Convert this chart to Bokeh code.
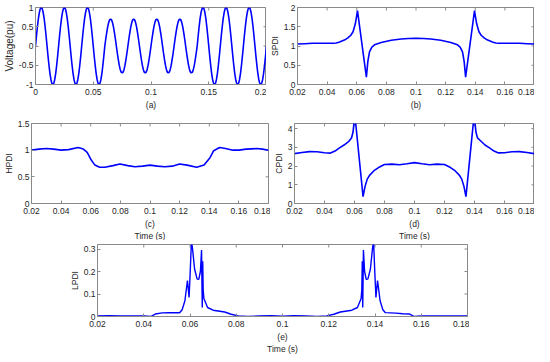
from bokeh.plotting import figure
from bokeh.layouts import column, row, Spacer
from bokeh.models import FixedTicker, Title, Range1d
from bokeh.embed import file_html
from bokeh.resources import INLINE
import math

# ---------------- data ----------------
# (a) voltage waveform: one-cycle shape (15 deg steps) and amplitude of each 20 ms cycle
wave_shape = [0, 0.26, 0.5, 0.71, 0.87, 0.97, 1, 0.97, 0.87, 0.71, 0.5, 0.26,
              0, -0.26, -0.5, -0.71, -0.87, -0.97, -1, -0.97, -0.87, -0.71, -0.5, -0.26]
cycle_amp = [1, 1, 1, 0.7, 0.7, 0.7, 0.7, 1, 1, 1]
cycle_len = 0.02

# (b) SPDI
t_spdi = [0.02, 0.025, 0.03, 0.035, 0.04, 0.044, 0.046, 0.048, 0.05, 0.052, 0.054, 0.056,
          0.0575, 0.059, 0.0598, 0.0605, 0.0665, 0.0675, 0.0686, 0.0702, 0.072, 0.0765,
          0.0833, 0.09, 0.095, 0.1, 0.105, 0.11, 0.1167, 0.1235, 0.128, 0.1298, 0.1314,
          0.1325, 0.1335, 0.1395, 0.1402, 0.141, 0.1425, 0.144, 0.146, 0.148, 0.15, 0.152,
          0.154, 0.156, 0.16, 0.165, 0.17, 0.175, 0.18]
v_spdi = [1.05, 1.06, 1.07, 1.07, 1.07, 1.07, 1.08, 1.10, 1.13, 1.16, 1.21, 1.28,
          1.37, 1.57, 1.75, 1.92, 0.19, 0.6, 0.85, 0.97, 1.03, 1.09,
          1.15, 1.18, 1.195, 1.2, 1.195, 1.18, 1.15, 1.09, 1.03, 0.97, 0.85,
          0.6, 0.19, 1.92, 1.75, 1.57, 1.37, 1.28, 1.21, 1.16, 1.13, 1.10,
          1.08, 1.07, 1.07, 1.07, 1.07, 1.06, 1.05]

# (c) HPDI
t_hpdi = [0.02, 0.025, 0.03, 0.035, 0.04, 0.045, 0.0515, 0.055, 0.0576, 0.06, 0.0628,
          0.066, 0.0695, 0.075, 0.0797, 0.085, 0.0898, 0.095, 0.1, 0.105, 0.11, 0.115,
          0.12, 0.125, 0.1315, 0.1365, 0.1405, 0.143, 0.147, 0.151, 0.156, 0.16, 0.165,
          0.172, 0.176, 0.18]
v_hpdi = [1.0, 1.02, 1.03, 1.02, 1.0, 1.01, 1.05, 1.02, 0.96, 0.83, 0.72,
          0.68, 0.68, 0.71, 0.74, 0.71, 0.69, 0.7, 0.72, 0.7, 0.69, 0.7,
          0.74, 0.72, 0.68, 0.72, 0.86, 0.99, 1.05, 1.03, 1.0, 1.0, 1.02,
          1.03, 1.02, 1.0]

# (d) CPDI
t_cpdi = [0.02, 0.025, 0.03, 0.035, 0.04, 0.044, 0.047, 0.05, 0.053, 0.056, 0.058, 0.059,
          0.0598, 0.0604, 0.0657, 0.067, 0.0685, 0.07, 0.073, 0.076, 0.08, 0.085, 0.09,
          0.095, 0.1, 0.105, 0.11, 0.115, 0.12, 0.124, 0.127, 0.13, 0.1315, 0.133, 0.1343,
          0.1396, 0.1402, 0.141, 0.142, 0.144, 0.147, 0.15, 0.153, 0.156, 0.16, 0.165,
          0.17, 0.175, 0.18]
v_cpdi = [2.66, 2.72, 2.77, 2.76, 2.71, 2.69, 2.8, 2.97, 3.12, 3.3, 3.5, 3.8,
          4.4, 4.6, 0.37, 0.9, 1.3, 1.5, 1.75, 1.92, 2.08, 2.1, 2.07,
          2.12, 2.18, 2.12, 2.07, 2.1, 2.08, 1.92, 1.75, 1.5, 1.3, 0.9, 0.37,
          4.6, 4.4, 3.8, 3.5, 3.35, 3.12, 2.97, 2.8, 2.7, 2.71, 2.76,
          2.77, 2.72, 2.66]

# (e) LPDI
t_lpdi = [0.02, 0.025, 0.03, 0.035, 0.04, 0.043, 0.045, 0.048, 0.051, 0.0555, 0.0566,
          0.0578, 0.0584, 0.0589, 0.0596, 0.0601, 0.0606, 0.061, 0.0615, 0.062, 0.0631,
          0.0638, 0.0645, 0.065, 0.0653, 0.0655, 0.0657, 0.066, 0.0676, 0.07, 0.075,
          0.0778, 0.0808, 0.085, 0.09, 0.095, 0.1, 0.105, 0.11, 0.115, 0.1192, 0.1222,
          0.125, 0.13, 0.1324, 0.134, 0.1343, 0.1345, 0.1347, 0.135, 0.1355, 0.1362,
          0.1369, 0.138, 0.1385, 0.139, 0.1394, 0.1399, 0.1404, 0.1411, 0.1416, 0.1422,
          0.1434, 0.1445, 0.149, 0.152, 0.155, 0.157, 0.16, 0.165, 0.17, 0.175, 0.18]
v_lpdi = [0.003, 0.004, 0.002, 0.003, 0.003, 0.0, 0.011, 0.016, 0.017, 0.017, 0.03,
          0.07, 0.12, 0.16, 0.085, 0.2, 0.33, 0.31, 0.26, 0.21, 0.166,
          0.165, 0.2, 0.295, 0.04, 0.245, 0.12, 0.08, 0.04, 0.028, 0.02,
          0.01, 0.003, 0.0, 0.002, 0.004, 0.001, 0.004, 0.002, 0.0, 0.003, 0.01,
          0.02, 0.028, 0.04, 0.08, 0.12, 0.245, 0.04, 0.295, 0.2, 0.165,
          0.166, 0.21, 0.26, 0.31, 0.33, 0.2, 0.085, 0.16, 0.12, 0.07,
          0.03, 0.017, 0.015, 0.012, 0.011, 0.0, 0.002, 0.003, 0.003, 0.002, 0.002]

# tick values / labels
ticks_a_x = [0, 0.05, 0.1, 0.15, 0.2]
labels_a_x = ["0", "0.05", "0.1", "0.15", "0.2"]
ticks_a_y = [-1, -0.5, 0, 0.5, 1]
labels_a_y = ["-1", "-0.5", "0", "0.5", "1"]
ticks_t = [0.02, 0.04, 0.06, 0.08, 0.1, 0.12, 0.14, 0.16, 0.18]
labels_t = ["0.02", "0.04", "0.06", "0.08", "0.1", "0.12", "0.14", "0.16", "0.18"]
ticks_b_y = [0, 0.5, 1, 1.5, 2]
labels_b_y = ["0", "0.5", "1", "1.5", "2"]
ticks_c_y = [0, 0.5, 1, 1.5]
labels_c_y = ["0", "0.5", "1", "1.5"]
ticks_d_y = [0, 1, 2, 3, 4]
labels_d_y = ["0", "1", "2", "3", "4"]
ticks_e_y = [0, 0.1, 0.2, 0.3]
labels_e_y = ["0", "0.1", "0.2", "0.3"]

# build waveform (a) from the read cycle amplitudes
t_volt, v_volt = [], []
n = len(wave_shape)
for k, amp in enumerate(cycle_amp):
    for j, s in enumerate(wave_shape):
        t_volt.append(k * cycle_len + j * cycle_len / n)
        v_volt.append(amp * s)
t_volt.append(len(cycle_amp) * cycle_len)
v_volt.append(0)

# ---------------- styling ----------------
FONT = "Liberation Sans"
TXT = "#262626"
AXC = "#8a8a8a"
FS = "8.5px"
BLUE = "#0000ff"


def make_fig(width, height, borders, xr, yr, xt, xl, yt, yl, ylabel, xlabel,
             below_title=None, ylabel_size=FS):
    left, right, top, bottom = borders
    p = figure(width=width, height=height, x_range=Range1d(*xr), y_range=Range1d(*yr),
               output_backend="svg", toolbar_location=None,
               min_border_left=left, min_border_right=right,
               min_border_top=top, min_border_bottom=bottom,
               background_fill_color="white", border_fill_color="white",
               outline_line_color=AXC, outline_line_width=1)
    p.xgrid.visible = False
    p.ygrid.visible = False
    for ax, ticks, labels in ((p.xaxis[0], xt, xl), (p.yaxis[0], yt, yl)):
        ax.ticker = FixedTicker(ticks=ticks)
        ax.major_label_overrides = dict(zip(ticks, labels))
        ax.major_tick_in = 3
        ax.major_tick_out = 0
        ax.minor_tick_line_color = None
        ax.axis_line_color = AXC
        ax.major_tick_line_color = AXC
        ax.major_label_text_font = FONT
        ax.major_label_text_font_size = FS
        ax.major_label_text_color = TXT
        ax.axis_label_text_font = FONT
        ax.axis_label_text_font_style = "normal"
        ax.axis_label_text_color = TXT
    p.xaxis.major_label_standoff = 4
    p.xaxis.axis_label = xlabel
    p.xaxis.axis_label_standoff = 2
    p.xaxis.axis_label_text_font_size = FS
    p.yaxis.major_label_standoff = 2
    p.yaxis.axis_label = ylabel
    p.yaxis.axis_label_standoff = 1
    p.yaxis.axis_label_text_font_size = ylabel_size
    # mirrored box ticks on the top and right edges (inward half of a dash is visible)
    p.scatter(x=xt, y=[yr[1]] * len(xt), marker="dash", size=6, angle=math.pi / 2,
              line_color=AXC, line_width=1)
    p.scatter(x=[xr[1]] * len(yt), y=yt, marker="dash", size=6,
              line_color=AXC, line_width=1)
    if below_title:
        p.add_layout(Title(text=below_title, align="center", text_font=FONT,
                           text_font_size=FS, text_font_style="normal",
                           text_color=TXT, standoff=-5), "below")
    return p


pa = make_fig(266, 112, (24, 0, 6, 24), (0, 0.2), (-1, 1), ticks_a_x, labels_a_x,
              ticks_a_y, labels_a_y, "Voltage(pu)", "(a)", ylabel_size="10px")
pa.line(t_volt, v_volt, line_color=BLUE, line_width=1.6)

pb = make_fig(268, 112, (24, 0, 7, 24), (0.02, 0.18), (0, 2), ticks_t, labels_t,
              ticks_b_y, labels_b_y, "SPDI", "(b)")
pb.line(t_spdi, v_spdi, line_color=BLUE, line_width=1.6)

pc = make_fig(270, 128, (24, 2, 11, 37), (0.02, 0.18), (0, 1.5), ticks_t, labels_t,
              ticks_c_y, labels_c_y, "HPDI", "(c)", below_title="Time (s)")
pc.line(t_hpdi, v_hpdi, line_color=BLUE, line_width=1.6)

pd = make_fig(264, 128, (19, 0, 11, 37), (0.02, 0.18), (0, 4.27), ticks_t, labels_t,
              ticks_d_y, labels_d_y, "CPDI", "(d)", below_title="Time (s)")
pd.line(t_cpdi, v_cpdi, line_color=BLUE, line_width=1.6)

pe = make_fig(403, 114, (26, 2, 4, 38), (0.02, 0.18), (0, 0.32), ticks_t, labels_t,
              ticks_e_y, labels_e_y, "LPDI", "(e)", below_title="Time (s)")
pe.line(t_lpdi, v_lpdi, line_color=BLUE, line_width=1.4)

layout = column(row(pa, pb), row(pc, pd), row(Spacer(width=66, height=114), pe))

open("out.html", "w").write(file_html(layout, INLINE))
